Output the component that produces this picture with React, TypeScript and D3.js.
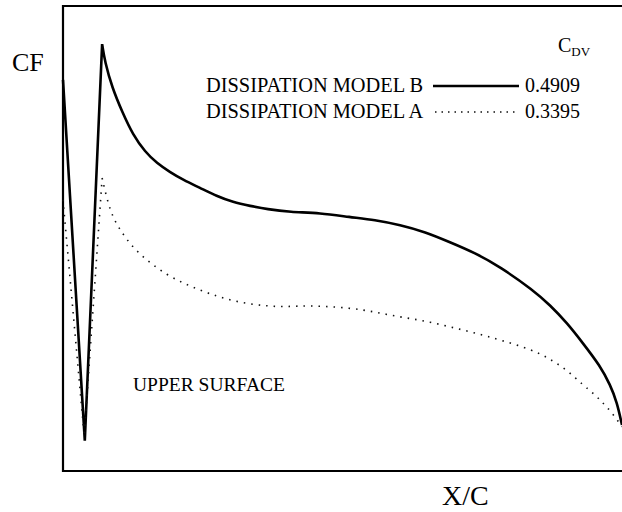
import React from "react";
import * as d3 from "d3";

// X/C stations and CF values (arbitrary units, CF x 1000)
const xcB = [0.0, 0.039, 0.07, 0.075, 0.088, 0.106, 0.125, 0.147, 0.168, 0.191, 0.215, 0.245, 0.275, 0.304, 0.335, 0.365, 0.406, 0.46, 0.513, 0.558, 0.603, 0.648, 0.692, 0.737, 0.782, 0.841, 0.871, 0.902, 0.93, 0.961, 0.979, 0.991, 1.0];
const cfB = [8.41, 0.65, 9.18, 8.8, 8.24, 7.72, 7.23, 6.86, 6.62, 6.43, 6.26, 6.09, 5.91, 5.78, 5.7, 5.63, 5.57, 5.55, 5.46, 5.4, 5.29, 5.14, 4.92, 4.69, 4.39, 3.89, 3.57, 3.18, 2.75, 2.26, 1.85, 1.48, 0.99];

const xcA = [0.0, 0.038, 0.07, 0.084, 0.102, 0.125, 0.156, 0.186, 0.215, 0.245, 0.275, 0.304, 0.335, 0.365, 0.394, 0.424, 0.454, 0.513, 0.558, 0.603, 0.648, 0.692, 0.737, 0.782, 0.841, 0.871, 0.902, 0.93, 0.948, 0.962, 0.975, 0.989, 1.0];
const cfA = [5.83, 0.75, 6.3, 5.57, 5.18, 4.8, 4.47, 4.22, 4.04, 3.89, 3.76, 3.66, 3.59, 3.55, 3.53, 3.55, 3.55, 3.51, 3.42, 3.31, 3.23, 3.1, 2.97, 2.82, 2.6, 2.41, 2.17, 1.85, 1.68, 1.51, 1.35, 1.14, 0.95];

const legendLabels = ["DISSIPATION MODEL B", "DISSIPATION MODEL A"];
const legendValues = ["0.4909", "0.3395"];

const W = 622;
const H = 512;
const FONT = "'Liberation Serif', 'Times New Roman', serif";

export default function App() {
  const x = d3.scaleLinear().domain([0, 1]).range([63, 622]);
  const y = d3.scaleLinear().domain([0, 10]).range([471, 6]);

  const pts = (xs: number[], ys: number[]) => xs.map((v, i) => [v, ys[i]] as [number, number]);
  const sharp = d3.line<[number, number]>().x(d => x(d[0])).y(d => y(d[1])).curve(d3.curveLinear);
  const smooth = d3.line<[number, number]>().x(d => x(d[0])).y(d => y(d[1])).curve(d3.curveBasis);

  const pathFor = (xs: number[], ys: number[]) => {
    const p = pts(xs, ys);
    return (sharp(p.slice(0, 3)) || "") + (smooth(p.slice(2)) || "");
  };

  const dB = pathFor(xcB, cfB);
  const dA = pathFor(xcA, cfA);

  return (
    <svg width={W} height={H} style={{ position: "absolute", left: 0, top: 0, background: "#fff" }} fontFamily={FONT}>
      <rect x={0} y={0} width={W} height={H} fill="#fff" />
      {/* frame */}
      <path d={`M${x(1) + 10},${y(10)} H${x(0)} V${y(0)} H${x(1) + 10}`} fill="none" stroke="#000" strokeWidth={2.2} />
      {/* curves */}
      <path d={dB} fill="none" stroke="#000" strokeWidth={2.6} strokeLinejoin="miter" />
      <path d={dA} fill="none" stroke="#111" strokeWidth={1.6} strokeDasharray="1.5,6" />

      {/* axis labels */}
      <text x={12} y={71} fontSize={26} fill="#000">CF</text>
      <text x={442} y={505} fontSize={28} fill="#000">X/C</text>

      {/* legend */}
      <text x={558} y={52} fontSize={20} fill="#000">C<tspan fontSize={13} dy={4}>DV</tspan></text>
      <text x={206} y={92} fontSize={20.4} fill="#000">{legendLabels[0]}</text>
      <line x1={433} x2={519} y1={86} y2={86} stroke="#000" strokeWidth={2.4} />
      <text x={525} y={92} fontSize={20} fill="#000">{legendValues[0]}</text>
      <text x={206} y={118} fontSize={20.4} fill="#000">{legendLabels[1]}</text>
      <line x1={435} x2={519} y1={112} y2={112} stroke="#111" strokeWidth={1.4} strokeDasharray="1.5,5" />
      <text x={525} y={118} fontSize={20} fill="#000">{legendValues[1]}</text>

      <text x={133} y={391} fontSize={19.5} fill="#000">UPPER SURFACE</text>
    </svg>
  );
}
